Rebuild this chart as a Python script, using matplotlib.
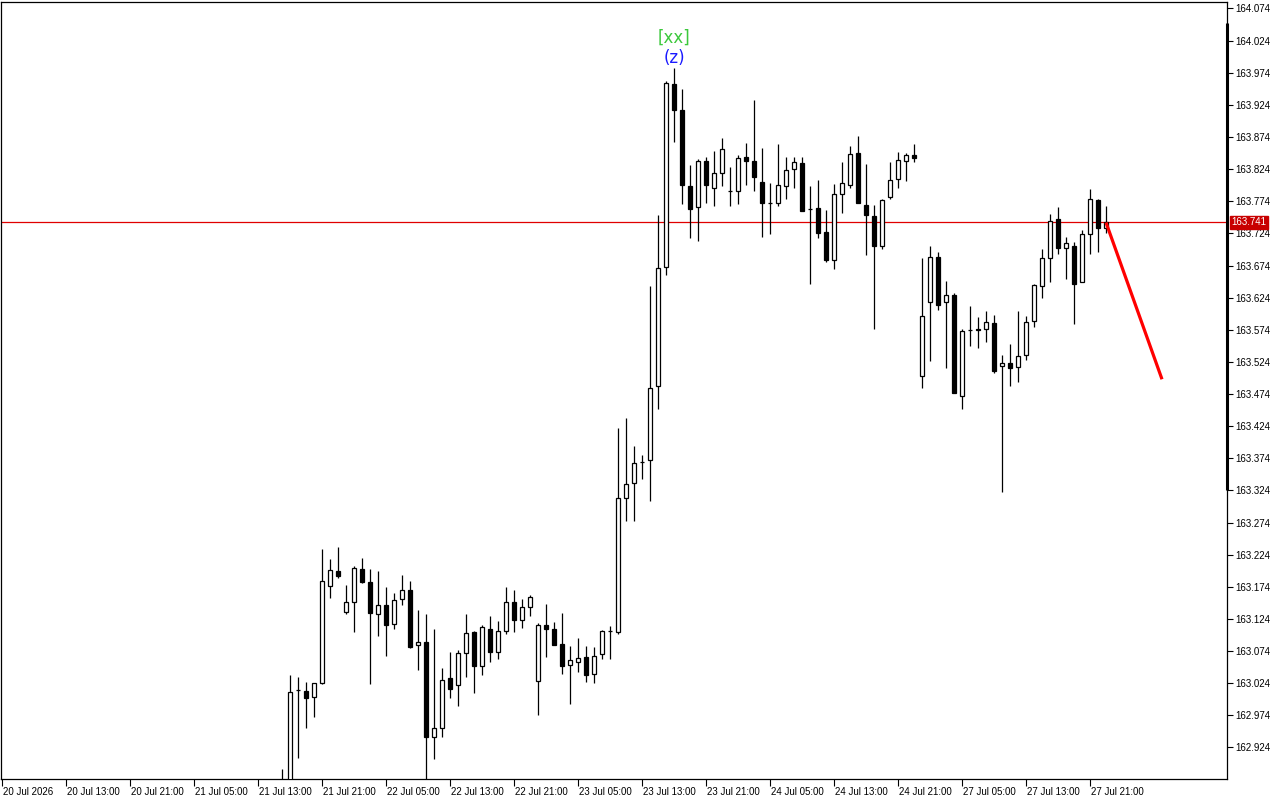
import numpy as np
import matplotlib
matplotlib.use("Agg")
import matplotlib.pyplot as plt
import matplotlib.transforms as mtransforms

# hourly bars, index 0 = 20 Jul 05:00 (weekend hours skipped)
first_bar = 35
opens = [162.845, 162.820, 163.013, 163.012, 163.003, 163.025, 163.175, 163.199, 163.135, 163.150,
         163.201, 163.181, 163.131, 163.145, 163.116, 163.155, 163.169, 163.083, 163.088, 162.940,
         162.955, 163.032, 163.021, 163.071, 163.103, 163.051, 163.109, 163.073, 163.106, 163.151,
         163.123, 163.142, 163.027, 163.114, 163.109, 163.085, 163.052, 163.057, 163.064, 163.038,
         163.069, 163.105, 163.104, 163.312, 163.335, 163.368, 163.371, 163.486, 163.671, 163.956,
         163.916, 163.798, 163.765, 163.836, 163.794, 163.818, 163.790, 163.790, 163.843, 163.836,
         163.804, 163.772, 163.772, 163.797, 163.824, 163.834, 163.762, 163.763, 163.726, 163.682,
         163.786, 163.799, 163.849, 163.768, 163.751, 163.704, 163.780, 163.808, 163.836, 163.846,
         163.502, 163.617, 163.688, 163.617, 163.628, 163.471, 163.573, 163.575, 163.575, 163.584,
         163.517, 163.522, 163.516, 163.534, 163.587, 163.642, 163.685, 163.746, 163.702, 163.705,
         163.648, 163.723, 163.776, 163.733]
highs = [162.891, 163.036, 163.034, 163.026, 163.025, 163.233, 163.217, 163.236, 163.177, 163.206,
         163.219, 163.202, 163.199, 163.174, 163.164, 163.192, 163.183, 163.138, 163.132, 163.108,
         163.048, 163.073, 163.076, 163.132, 163.106, 163.115, 163.129, 163.121, 163.174, 163.169,
         163.155, 163.161, 163.117, 163.147, 163.119, 163.133, 163.082, 163.094, 163.082, 163.080,
         163.107, 163.113, 163.421, 163.437, 163.393, 163.379, 163.642, 163.753, 163.961, 163.982,
         163.949, 163.830, 163.839, 163.843, 163.852, 163.872, 163.828, 163.846, 163.865, 163.932,
         163.857, 163.802, 163.863, 163.843, 163.843, 163.843, 163.797, 163.807, 163.760, 163.801,
         163.835, 163.860, 163.876, 163.832, 163.768, 163.777, 163.835, 163.851, 163.849, 163.863,
         163.685, 163.704, 163.695, 163.650, 163.632, 163.575, 163.611, 163.594, 163.603, 163.597,
         163.535, 163.552, 163.603, 163.595, 163.645, 163.699, 163.754, 163.765, 163.719, 163.710,
         163.730, 163.793, 163.777, 163.766]
lows = [162.780, 162.800, 162.908, 162.955, 162.972, 163.023, 163.157, 163.187, 163.132, 163.104,
        163.180, 163.023, 163.098, 163.067, 163.109, 163.146, 163.078, 163.045, 162.860, 162.906,
        162.940, 163.001, 162.989, 163.033, 163.009, 163.036, 163.057, 163.061, 163.100, 163.103,
        163.110, 163.129, 162.975, 163.065, 163.083, 163.039, 162.991, 163.041, 163.026, 163.025,
        163.062, 163.062, 163.101, 163.277, 163.277, 163.342, 163.308, 163.451, 163.660, 163.867,
        163.769, 163.717, 163.712, 163.772, 163.767, 163.797, 163.767, 163.769, 163.800, 163.790,
        163.719, 163.723, 163.767, 163.778, 163.795, 163.759, 163.646, 163.717, 163.680, 163.669,
        163.755, 163.794, 163.772, 163.691, 163.575, 163.699, 163.778, 163.794, 163.806, 163.835,
        163.484, 163.526, 163.605, 163.515, 163.475, 163.451, 163.549, 163.545, 163.555, 163.506,
        163.322, 163.487, 163.492, 163.527, 163.578, 163.623, 163.649, 163.692, 163.653, 163.583,
        163.648, 163.692, 163.695, 163.724]
closes = [162.860, 163.011, 163.013, 163.001, 163.024, 163.183, 163.200, 163.191, 163.150, 163.203,
          163.182, 163.133, 163.145, 163.115, 163.153, 163.169, 163.081, 163.088, 162.940, 162.955,
          163.029, 163.015, 163.071, 163.102, 163.051, 163.111, 163.073, 163.105, 163.151, 163.123,
          163.142, 163.158, 163.114, 163.109, 163.083, 163.051, 163.060, 163.063, 163.037, 163.067,
          163.105, 163.105, 163.312, 163.334, 163.366, 163.368, 163.483, 163.670, 163.958, 163.916,
          163.799, 163.762, 163.836, 163.799, 163.818, 163.856, 163.790, 163.842, 163.836, 163.811,
          163.772, 163.772, 163.799, 163.822, 163.835, 163.759, 163.762, 163.725, 163.683, 163.786,
          163.802, 163.847, 163.772, 163.752, 163.705, 163.776, 163.807, 163.838, 163.846, 163.842,
          163.595, 163.688, 163.613, 163.628, 163.475, 163.572, 163.573, 163.573, 163.586, 163.510,
          163.522, 163.514, 163.533, 163.586, 163.643, 163.685, 163.744, 163.701, 163.709, 163.646,
          163.723, 163.777, 163.732, 163.741]

time_labels = ["20 Jul 2026", "20 Jul 13:00", "20 Jul 21:00", "21 Jul 05:00", "21 Jul 13:00",
               "21 Jul 21:00", "22 Jul 05:00", "22 Jul 13:00", "22 Jul 21:00", "23 Jul 05:00",
               "23 Jul 13:00", "23 Jul 21:00", "24 Jul 05:00", "24 Jul 13:00", "24 Jul 21:00",
               "27 Jul 05:00", "27 Jul 13:00", "27 Jul 21:00"]
price_ticks = [162.924, 162.974, 163.024, 163.074, 163.124, 163.174, 163.224, 163.274,
               163.324, 163.374, 163.424, 163.474, 163.524, 163.574, 163.624, 163.674,
               163.724, 163.774, 163.824, 163.874, 163.924, 163.974, 164.024, 164.074]

last_price = 163.741
# projection line: bar 138 -> bar 145
proj_bars = [138, 145]
proj_prices = [163.741, 163.497]
mark_bar = 84

font = "Liberation Sans"
bars = np.arange(first_bar, first_bar + len(opens))
o = np.array(opens); h = np.array(highs); l = np.array(lows); c = np.array(closes)

fig = plt.figure(figsize=(12.8, 8), dpi=100)
ax = fig.add_axes([1 / 1280, 21 / 800, 1226 / 1280, 777 / 800])

# wicks then bodies
ax.vlines(bars, l, h, color="black", lw=0.9, zorder=2)
up = c >= o
body_lo = np.minimum(o, c)
body_h = np.abs(c - o)
ax.bar(bars[up], body_h[up], bottom=body_lo[up], width=0.55, color="white",
       edgecolor="black", linewidth=0.9, zorder=3)
ax.bar(bars[~up], body_h[~up], bottom=body_lo[~up], width=0.55, color="black",
       edgecolor="black", linewidth=0.9, zorder=3)

ax.axhline(last_price, color="#e00000", lw=0.9, zorder=1)
ax.plot(proj_bars, proj_prices, color="#ff0000", lw=2.3, zorder=4, solid_capstyle="butt")

# wave labels above the top bar
hi = h[mark_bar - first_bar]
ax.annotate("(z)", (mark_bar, hi), xytext=(0, 10), textcoords="offset pixels",
            ha="center", va="center", color="#1a1aff", fontsize=12)
ax.annotate("[xx]", (mark_bar, hi), xytext=(0, 30), textcoords="offset pixels",
            ha="center", va="center", color="#3cc83c", fontsize=12)

ax.set_xlim(-0.125, 153.125)
ax.set_ylim(162.8749, 164.0841)

ax.set_xticks(np.arange(len(time_labels)) * 8)
ax.set_xticklabels(time_labels, fontsize=7, family=font, ha="left")
ax.tick_params(axis="x", direction="out", length=5, width=0.8, pad=1)
for lab in ax.get_xticklabels():
    lab.set_transform(lab.get_transform() + mtransforms.ScaledTranslation(1 / 100, 0, fig.dpi_scale_trans))

ax.yaxis.tick_right()
ax.set_yticks(price_ticks)
ax.set_yticklabels(["%.3f" % p for p in price_ticks], fontsize=7, family=font)
ax.tick_params(axis="y", direction="out", length=4, width=0.8, pad=2)

for s in ax.spines.values():
    s.set_linewidth(0.9)

# thick part of the price scale
ax.plot([1.0, 1.0], [0.372, 0.973], transform=ax.transAxes, color="black",
        lw=2.2, clip_on=False, solid_capstyle="butt")

# last price tag
ax.annotate("%.3f" % last_price, (1, last_price), xycoords=("axes fraction", "data"),
            xytext=(3, 0), textcoords="offset points", ha="left", va="center",
            color="white", fontsize=7, family=font,
            bbox=dict(boxstyle="square,pad=0.15", fc="#c80000", ec="#c80000"))

fig.savefig("out.png", dpi=100, facecolor="white")
